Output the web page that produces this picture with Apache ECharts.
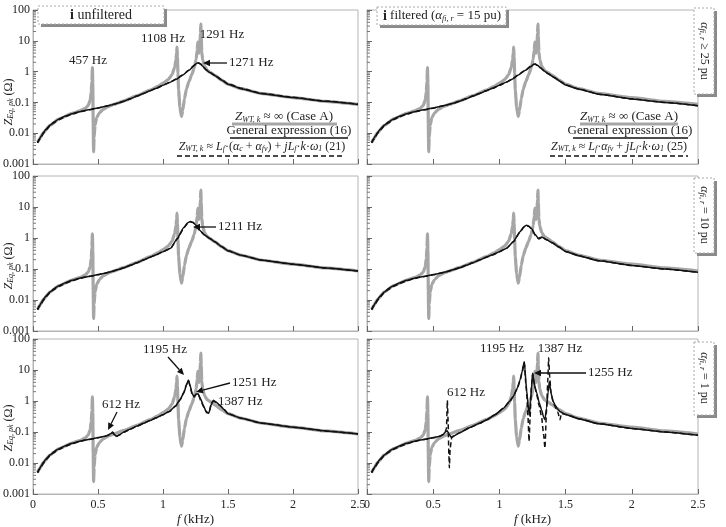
<!DOCTYPE html>
<html lang="en">
<head>
<meta charset="UTF-8">
<title>Z_Eq,pk</title>
<script src="https://cdn.jsdelivr.net/npm/echarts@6/dist/echarts.min.js"></script>
<style>html,body{margin:0;padding:0;background:#fff}#chart{width:726px;height:527px}</style>
</head>
<body>
<div id="chart"></div>
<script>
// f in kHz, Z in ohm
var lowGen = [[0.035,0.005],[0.05,0.0066],[0.065,0.0083],[0.08,0.0105],[0.1,0.0135],[0.13,0.018],[0.16,0.023],[0.2,0.029],[0.25,0.036],[0.3,0.043],[0.35,0.049],[0.4,0.055],[0.45,0.06],[0.5,0.066]];
var lowApx = [[0.035,0.0048],[0.05,0.0062],[0.065,0.0078],[0.08,0.0098],[0.1,0.0126],[0.13,0.017],[0.16,0.0215],[0.2,0.0275],[0.25,0.0345],[0.3,0.0415],[0.35,0.048],[0.4,0.054],[0.45,0.059],[0.5,0.065]];
var midGen = [[0.55,0.073],[0.6,0.082],[0.65,0.094],[0.7,0.11],[0.75,0.132],[0.8,0.16],[0.85,0.195],[0.9,0.24],[0.95,0.29],[1.0,0.36]];
var tailL = [[1.5,0.39],[1.6,0.28],[1.75,0.195],[2.0,0.143],[2.25,0.108],[2.5,0.086]];
var tailR = [[1.5,0.37],[1.6,0.27],[1.75,0.185],[2.0,0.13],[2.25,0.1],[2.5,0.078]];

// Z_WT,k = inf (Case A), same in every panel
var caseA = [[0.035,0.005],[0.05,0.0066],[0.08,0.0105],[0.13,0.018],[0.2,0.029],[0.3,0.044],[0.36,0.053],[0.4,0.063],[0.425,0.08],[0.44,0.12],[0.448,0.22],[0.453,0.5],[0.457,1.35],[0.46,0.4],[0.463,0.02],[0.466,0.0025],[0.47,0.007],[0.477,0.018],[0.49,0.032],[0.51,0.045],[0.54,0.06],[0.58,0.074],[0.62,0.086],[0.7,0.112],[0.8,0.165],[0.9,0.25],[0.96,0.33],[1.0,0.42],[1.04,0.55],[1.07,0.8],[1.09,1.4],[1.1,2.5],[1.105,4.2],[1.108,6.3],[1.111,3.0],[1.115,0.9],[1.12,0.25],[1.13,0.07],[1.142,0.035],[1.152,0.055],[1.165,0.13],[1.18,0.27],[1.2,0.48],[1.22,0.78],[1.24,1.3],[1.255,2.5],[1.263,5],[1.268,9],[1.273,5.5],[1.278,4],[1.284,8],[1.288,18],[1.291,35],[1.294,14],[1.298,4.5],[1.305,2.4],[1.32,1.5],[1.34,1.1],[1.36,0.97],[1.4,0.75],[1.45,0.53],[1.5,0.39],[1.6,0.28],[1.75,0.195],[2.0,0.143],[2.25,0.108],[2.5,0.086]];

// general expression (16) and approximations (21)/(25), per panel
var gen1 = lowGen.concat(midGen, [[1.05,0.44],[1.1,0.56],[1.15,0.76],[1.2,1.1],[1.235,1.5],[1.255,1.8],[1.271,1.95],[1.287,1.8],[1.305,1.5],[1.33,1.15],[1.36,0.93],[1.4,0.74],[1.45,0.53]], tailL);
var apx1 = lowApx.concat(midGen, [[1.05,0.44],[1.1,0.57],[1.15,0.78],[1.2,1.13],[1.235,1.55],[1.258,1.85],[1.271,1.9],[1.29,1.75],[1.31,1.42],[1.335,1.12],[1.36,0.95],[1.4,0.76],[1.45,0.55],[1.5,0.4],[1.6,0.29],[1.75,0.2],[2.0,0.146],[2.25,0.11],[2.5,0.088]]);
var gen2 = lowGen.concat(midGen, [[1.058,0.47],[1.11,0.97],[1.16,2.2],[1.19,3.1],[1.211,3.4],[1.23,3.2],[1.25,2.7],[1.28,1.8],[1.32,1.25],[1.36,0.97],[1.4,0.75],[1.45,0.53]], tailL);
var apx2 = lowApx.concat(midGen, [[1.058,0.46],[1.11,0.93],[1.16,2.1],[1.19,3.0],[1.211,3.3],[1.232,3.1],[1.255,2.5],[1.285,1.7],[1.32,1.22],[1.36,0.96],[1.4,0.75],[1.45,0.53]], tailL);
var gen3 = lowGen.concat([[0.55,0.073],[0.58,0.08],[0.6,0.09],[0.612,0.096],[0.625,0.083],[0.64,0.073],[0.66,0.08],[0.7,0.1],[0.75,0.125],[0.8,0.155],[0.85,0.19],[0.9,0.235],[0.95,0.29],[1.0,0.36],[1.05,0.47],[1.097,0.7],[1.13,1.1],[1.16,1.8],[1.18,3.2],[1.195,4.8],[1.208,3.2],[1.225,1.7],[1.238,1.4],[1.255,1.65],[1.27,1.7],[1.29,1.15],[1.31,0.72],[1.332,0.46],[1.352,0.4],[1.37,0.75],[1.387,1.05],[1.405,0.95],[1.438,0.72],[1.47,0.53]], tailL);
var apx3 = lowApx.concat([[0.55,0.072],[0.58,0.078],[0.6,0.088],[0.612,0.1],[0.622,0.088],[0.638,0.07],[0.66,0.078],[0.7,0.098],[0.75,0.124],[0.8,0.154],[0.85,0.19],[0.9,0.235],[0.95,0.29],[1.0,0.36],[1.05,0.46],[1.097,0.68],[1.13,1.05],[1.16,1.9],[1.18,3.4],[1.197,4.5],[1.21,2.8],[1.226,1.5],[1.24,1.35],[1.257,1.7],[1.272,1.6],[1.292,1.0],[1.315,0.62],[1.335,0.42],[1.355,0.42],[1.372,0.85],[1.39,1.0],[1.41,0.88],[1.44,0.7],[1.47,0.53]], tailL);
var gen4 = lowGen.concat(midGen, [[1.05,0.45],[1.1,0.58],[1.143,0.78],[1.2,1.12],[1.235,1.45],[1.258,1.7],[1.271,1.75],[1.29,1.58],[1.31,1.33],[1.34,1.04],[1.37,0.84],[1.42,0.62],[1.46,0.48]], tailR);
var apx4 = lowApx.concat(midGen, [[1.05,0.45],[1.1,0.58],[1.143,0.8],[1.2,1.15],[1.235,1.5],[1.26,1.72],[1.272,1.72],[1.292,1.55],[1.312,1.3],[1.34,1.05],[1.37,0.85],[1.42,0.63],[1.46,0.48]], tailR);
var gen5 = lowGen.concat(midGen, [[1.055,0.47],[1.105,0.76],[1.156,1.6],[1.185,2.3],[1.206,2.6],[1.225,2.3],[1.244,2.0],[1.27,1.3],[1.294,0.98],[1.32,1.08],[1.357,0.87],[1.4,0.7],[1.45,0.51]], tailR);
var apx5 = lowApx.concat(midGen, [[1.055,0.47],[1.105,0.75],[1.156,1.55],[1.185,2.25],[1.206,2.5],[1.225,2.4],[1.25,1.7],[1.275,1.15],[1.298,0.92],[1.322,1.05],[1.36,0.86],[1.4,0.7],[1.45,0.51]], tailR);
var gen6 = lowGen.concat([[0.55,0.073],[0.575,0.083],[0.592,0.1],[0.606,0.11],[0.62,0.085],[0.635,0.068],[0.66,0.076],[0.7,0.095],[0.778,0.14],[0.85,0.19],[0.904,0.25],[0.97,0.37],[1.03,0.58],[1.08,1.0],[1.105,1.4],[1.135,2.6],[1.156,4.8],[1.172,9],[1.182,15],[1.188,18.5],[1.194,10],[1.2,4],[1.206,2.2],[1.216,0.8],[1.226,0.35],[1.236,1.0],[1.244,3.5],[1.251,7.8],[1.26,4.5],[1.27,2.6],[1.282,1.8],[1.3,0.9],[1.319,0.51],[1.334,0.3],[1.344,0.25],[1.356,0.6],[1.367,1.8],[1.377,4.2],[1.39,1.8],[1.405,1.0],[1.42,0.74],[1.44,0.55],[1.458,0.45]], tailR);
var apx6 = lowApx.concat([[0.55,0.073],[0.575,0.083],[0.589,0.1],[0.6,0.13],[0.607,1.05],[0.613,0.2],[0.618,0.02],[0.622,0.007],[0.628,0.03],[0.64,0.066],[0.66,0.076],[0.7,0.095],[0.778,0.14],[0.85,0.19],[0.904,0.25],[0.97,0.37],[1.03,0.58],[1.08,1.0],[1.105,1.4],[1.135,2.5],[1.156,4.5],[1.172,8.5],[1.188,17],[1.2,3.5],[1.206,1.8],[1.216,0.3],[1.224,0.05],[1.232,0.3],[1.242,3],[1.251,7.5],[1.265,3.5],[1.282,1.6],[1.3,0.7],[1.319,0.3],[1.334,0.08],[1.344,0.03],[1.355,0.4],[1.365,4],[1.372,25],[1.38,6],[1.39,1.8],[1.41,0.8],[1.44,0.45],[1.458,0.25],[1.468,0.4]], tailR);

var yTicks = [0.001, 0.01, 0.1, 1, 10, 100];
var xTicks = [0, 0.5, 1, 1.5, 2, 2.5];
// minor tick positions on the log axis (2..9 per decade)
var minorTicks = [];
for (var k = 0; k < yTicks.length - 1; k++) {
  for (var m = 2; m <= 9; m++) minorTicks.push([0, +(m * yTicks[k]).toPrecision(2)]);
}

var FONT = 'Liberation Serif';
var chart = echarts.init(document.getElementById('chart'));

var panels = [
  {left: 28, width: 330, top: 10, height: 154, gen: gen1, apx: apx1, labels: true, bottom: false},
  {left: 28, width: 330, top: 176, height: 155, gen: gen2, apx: apx2, labels: true, bottom: false},
  {left: 28, width: 330, top: 339, height: 155, gen: gen3, apx: apx3, labels: true, bottom: true},
  {left: 367, width: 331, top: 10, height: 154, gen: gen4, apx: apx4, labels: false, bottom: false},
  {left: 367, width: 331, top: 176, height: 155, gen: gen5, apx: apx5, labels: false, bottom: false},
  {left: 367, width: 331, top: 339, height: 155, gen: gen6, apx: apx6, labels: false, bottom: true}
];

var rich = {
  i: {fontStyle: 'italic', fontFamily: FONT, fontSize: 13, color: '#222'},
  s: {fontStyle: 'italic', fontFamily: FONT, fontSize: 8, color: '#222', verticalAlign: 'bottom'},
  b: {fontWeight: 'bold', fontFamily: FONT, fontSize: 14, color: '#222'},
  r: {fontStyle: 'italic', fontFamily: FONT, fontSize: 12, color: '#222'},
  n: {fontFamily: FONT, fontSize: 13, color: '#222'}
};

var grids = [], xAxes = [], yAxes = [], series = [];
panels.forEach(function (p, i) {
  grids.push({left: p.left, top: p.top, width: p.width, height: p.height, show: true, borderColor: '#b4b4b4', borderWidth: 1});
  xAxes.push({
    gridIndex: i, type: 'value', min: 0, max: 2.5, interval: 0.5,
    axisLine: {lineStyle: {color: '#b4b4b4'}},
    axisTick: {inside: true, length: 5, lineStyle: {color: '#666'}},
    axisLabel: {show: p.bottom, fontFamily: FONT, fontSize: 12, color: '#222', margin: 5},
    splitLine: {show: false},
    name: p.bottom ? '{i|f} (kHz)' : '', nameLocation: 'middle', nameGap: 19,
    nameTextStyle: {fontFamily: FONT, fontSize: 13, color: '#222', rich: rich}
  });
  yAxes.push({
    gridIndex: i, type: 'log', logBase: 10, min: 0.001, max: 100,
    axisLine: {lineStyle: {color: '#b4b4b4'}},
    axisTick: {inside: true, length: 5, lineStyle: {color: '#666'}},
    axisLabel: {show: p.labels, fontFamily: FONT, fontSize: 12, color: '#222', margin: 3,
      formatter: function (v) { return String(parseFloat(v.toPrecision(2))); }},
    splitLine: {show: false}
  });
  series.push({
    type: 'custom', xAxisIndex: i, yAxisIndex: i, data: minorTicks, silent: true, z: 1,
    renderItem: function (params, api) {
      var pt = api.coord([0, api.value(1)]);
      return {type: 'line', shape: {x1: pt[0], y1: pt[1], x2: pt[0] + 3, y2: pt[1]}, style: {stroke: '#777', lineWidth: 1}};
    }
  });
  series.push({type: 'line', xAxisIndex: i, yAxisIndex: i, data: caseA, showSymbol: false, z: 2,
    lineStyle: {color: '#a6a6a6', width: 3.2}, smooth: 0.15, smoothMonotone: 'x'});
  series.push({type: 'line', xAxisIndex: i, yAxisIndex: i, data: p.apx, showSymbol: false, z: 3,
    lineStyle: {color: '#111', width: 1.5, type: [5, 3]}, smooth: 0.15, smoothMonotone: 'x'});
  series.push({type: 'line', xAxisIndex: i, yAxisIndex: i, data: p.gen, showSymbol: false, z: i === 5 ? 2.5 : 4,
    lineStyle: {color: '#111', width: 1.5}, smooth: 0.15, smoothMonotone: 'x'});
});

// decorations
function txt(x, y, s, opt) {
  opt = opt || {};
  return {type: 'text', x: x, y: y, rotation: opt.rot || 0, z: 100,
    style: {text: s, rich: rich, font: (opt.size || 13) + 'px ' + FONT, fill: '#222',
      align: opt.align || 'center', verticalAlign: 'middle'}};
}
function arrow(x1, y1, x2, y2) {
  var a = Math.atan2(y2 - y1, x2 - x1), L = 7, W = 3.2;
  var bx = x2 - L * Math.cos(a), by = y2 - L * Math.sin(a);
  var nx = -Math.sin(a) * W, ny = Math.cos(a) * W;
  return [
    {type: 'line', z: 100, shape: {x1: x1, y1: y1, x2: bx, y2: by}, style: {stroke: '#111', lineWidth: 1.3}},
    {type: 'polygon', z: 100, shape: {points: [[x2, y2], [bx + nx, by + ny], [bx - nx, by - ny]]}, style: {fill: '#111'}}
  ];
}
function box(x, y, w, h) {
  return [
    {type: 'rect', z: 99, shape: {x: x + 3, y: y + 3, width: w, height: h}, style: {fill: '#8a8a8a'}},
    {type: 'rect', z: 99, shape: {x: x, y: y, width: w, height: h}, style: {fill: '#fff', stroke: '#aaa', lineWidth: 1, lineDash: [2, 2]}}
  ];
}
function hline(x1, x2, y, color, w, dash) {
  return {type: 'line', z: 100, shape: {x1: x1, y1: y, x2: x2, y2: y},
    style: {stroke: color, lineWidth: w, lineDash: dash || null}};
}

var g = [];
// y axis names
[102, 266, 428].forEach(function (y) {
  g.push(txt(9, y, '{r|Z}{s|Eq, pk} (Ω)', {rot: Math.PI / 2, size: 12}));
});
// headers
g = g.concat(box(38, 6, 126, 18), box(377, 7, 129, 18));
g.push(txt(101, 15, '{b|i} unfiltered', {size: 14}));
g.push(txt(442, 16, '{b|i} filtered ({i|α}{s|fi, r} = 15 pu)'));
// right side boxes
g = g.concat(box(694, 8, 20, 86), box(694, 178, 20, 75), box(694, 342, 20, 73));
g.push(txt(704, 51, '{r|α}{s|fi, r} ≥ 25 pu', {rot: -Math.PI / 2, size: 12}));
g.push(txt(704, 215, '{r|α}{s|fi, r} = 10 pu', {rot: -Math.PI / 2, size: 12}));
g.push(txt(704, 378, '{r|α}{s|fi, r} = 1 pu', {rot: -Math.PI / 2, size: 12}));
// legends
g.push(txt(284, 117, '{i|Z}{s|WT, k} ≈ ∞ (Case A)'));
g.push(hline(232, 337, 124, '#a6a6a6', 3));
g.push(txt(289, 131, 'General expression (16)'));
g.push(hline(230, 348, 138, '#111', 1.5));
g.push(txt(262, 147, '{r|Z}{s|WT, k} ≈ {r|L}{s|f}·({r|α}{s|c} + {r|α}{s|fv}) + {r|jL}{s|f}·{r|k}·{r|ω}{s|1} (21)', {size: 12}));
g.push(hline(177, 345, 156, '#111', 1.5, [5, 3]));
g.push(txt(629, 117, '{i|Z}{s|WT, k} ≈ ∞ (Case A)'));
g.push(hline(580, 678, 124, '#a6a6a6', 3));
g.push(txt(630, 131, 'General expression (16)'));
g.push(hline(573, 688, 138, '#111', 1.5));
g.push(txt(619, 147, '{r|Z}{s|WT, k} ≈ {r|L}{s|f}·{r|α}{s|fv} + {r|jL}{s|f}·{r|k}·{r|ω}{s|1} (25)', {size: 12}));
g.push(hline(550, 688, 156, '#111', 1.5, [5, 3]));
// annotations
g.push(txt(88, 61, '457 Hz'));
g.push(txt(163, 39, '1108 Hz'));
g.push(txt(222, 35, '1291 Hz'));
g.push(txt(229, 63, '1271 Hz', {align: 'left'}));
g = g.concat(arrow(227, 63, 203, 63));
g.push(txt(218, 227, '1211 Hz', {align: 'left'}));
g = g.concat(arrow(216, 227, 193, 227));
g.push(txt(165, 350, '1195 Hz'));
g = g.concat(arrow(168, 357, 184, 375));
g.push(txt(232, 383, '1251 Hz', {align: 'left'}));
g = g.concat(arrow(230, 383, 196, 392));
g.push(txt(218, 402, '1387 Hz', {align: 'left'}));
g.push(txt(121, 405, '612 Hz'));
g = g.concat(arrow(117, 412, 108, 430));
g.push(txt(502, 349, '1195 Hz'));
g.push(txt(560, 349, '1387 Hz'));
g.push(txt(466, 393, '612 Hz'));
g.push(txt(588, 373, '1255 Hz', {align: 'left'}));
g = g.concat(arrow(586, 373, 534, 373));

chart.setOption({
  animation: false,
  backgroundColor: '#fff',
  grid: grids,
  xAxis: xAxes,
  yAxis: yAxes,
  series: series,
  graphic: g
});
</script>
</body>
</html>
